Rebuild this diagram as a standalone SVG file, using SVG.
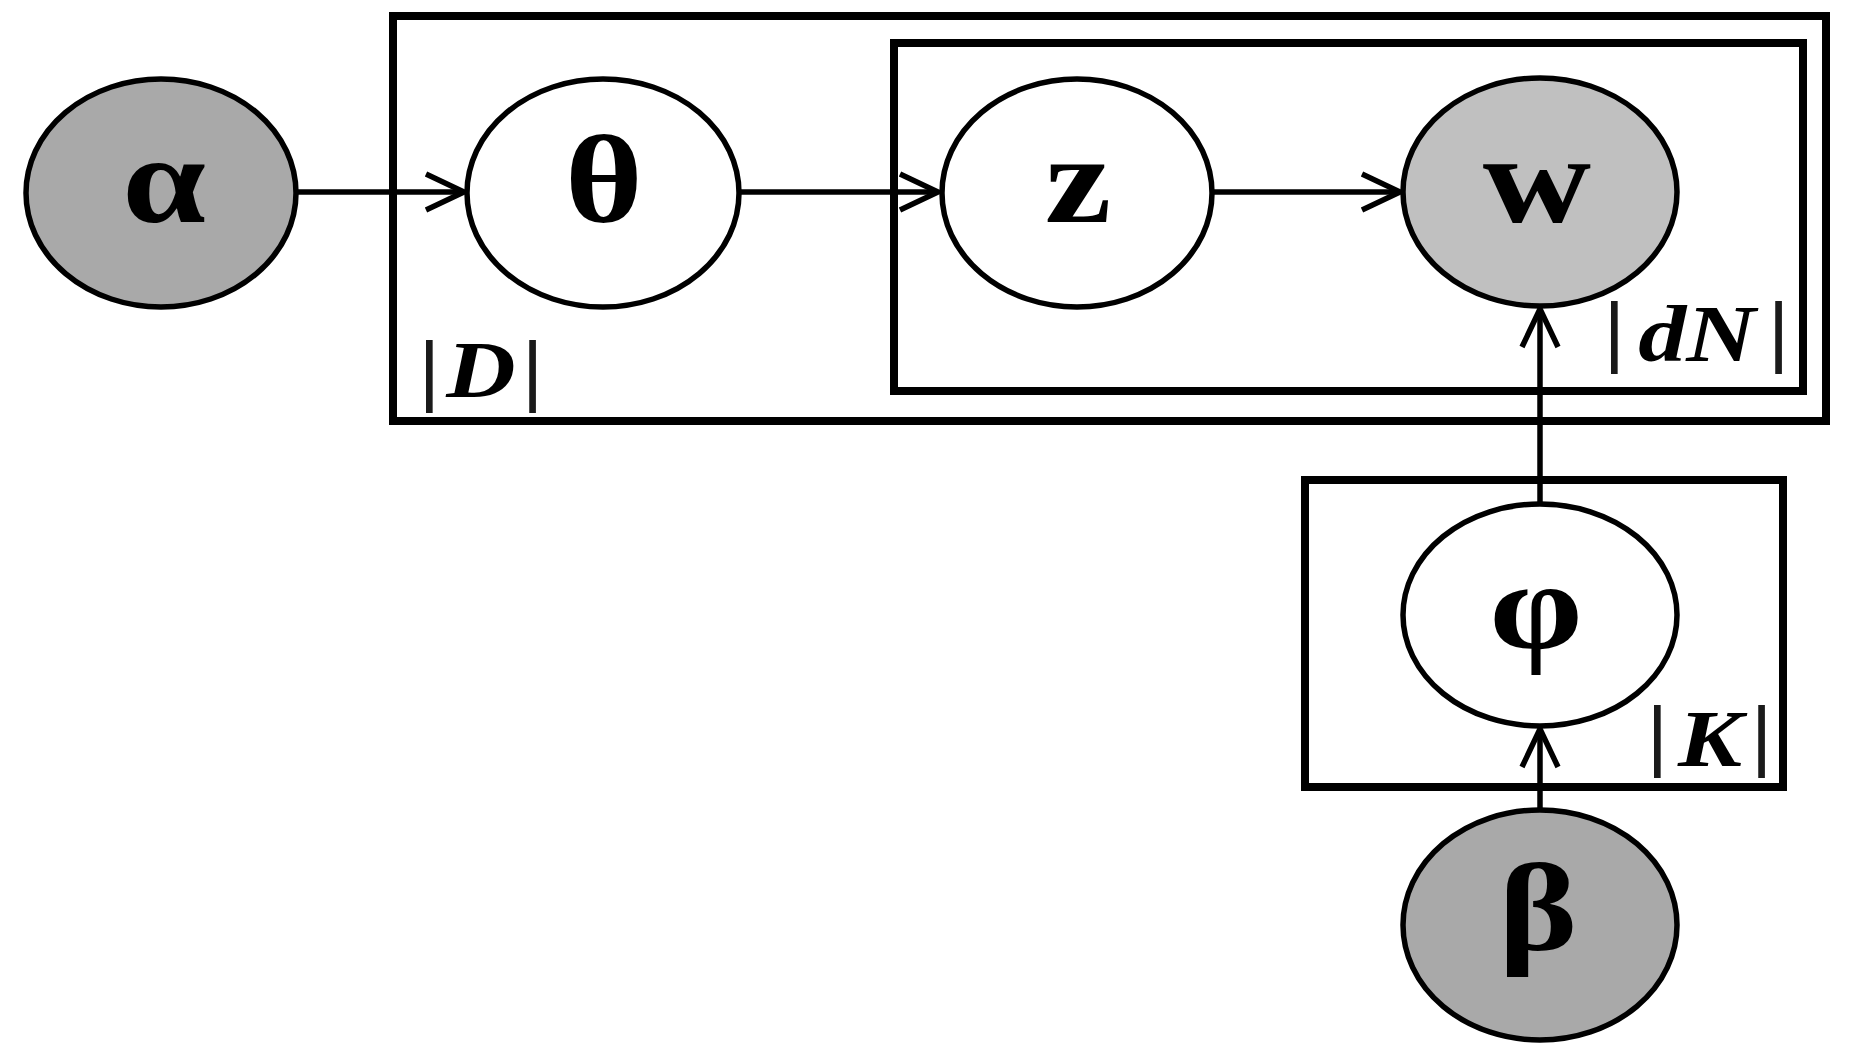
<svg xmlns="http://www.w3.org/2000/svg" width="1851" height="1055" viewBox="0 0 1851 1055">
<style>
.plate{fill:none;stroke:#000;stroke-width:8}
.node{stroke:#000;stroke-width:5.5}
.obs{fill:#a9a9a9}
.obs2{fill:#c0c0c0}
.lat{fill:#fff}
.lbl{font-family:"Liberation Serif","Times New Roman",serif;font-weight:bold;font-size:125px;text-anchor:middle;fill:#000}
.pl{font-family:"Liberation Serif","Times New Roman",serif;font-size:80px;fill:#000;text-anchor:middle}
.pl .v{font-weight:bold;font-style:italic}
.pl .b{fill:#1a1a1a;font-weight:bold}
.edge{fill:none;stroke:#000;stroke-width:5.5}
</style>
<defs>
<marker id="arr" markerUnits="userSpaceOnUse" markerWidth="50" markerHeight="50" viewBox="0 0 50 50" refX="40" refY="20" orient="auto" overflow="visible">
<path d="M2,2 L40,20 L2,38" fill="none" stroke="#000" stroke-width="5.5"/>
</marker>
</defs>
<rect width="1851" height="1055" fill="#fff"/>
<g id="plates">
<g id="plate-D">
<rect class="plate" x="393" y="16" width="1433" height="405"/>
<text class="pl" transform="translate(481,397) scale(1.2,1)"><tspan class="b" x="-43" y="-1">|</tspan><tspan class="v" x="0" y="0">D</tspan><tspan class="b" x="43" y="-1">|</tspan></text>
</g>
<g id="plate-dN">
<rect class="plate" x="894" y="43" width="909" height="348"/>
<text class="pl" transform="translate(1697,361) scale(1.2,1)"><tspan class="b" x="-69" y="-4">|</tspan><tspan class="v" x="0" y="0">dN</tspan><tspan class="b" x="68" y="-4">|</tspan></text>
</g>
<g id="plate-K">
<rect class="plate" x="1305" y="480" width="478" height="307"/>
<text class="pl" transform="translate(1710,766) scale(1.2,1)"><tspan class="b" x="-44" y="-5">|</tspan><tspan class="v" x="0" y="0">K</tspan><tspan class="b" x="43" y="-5">|</tspan></text>
</g>
</g>
<g id="connectors">
<line class="edge" x1="297" y1="192" x2="464" y2="192" marker-end="url(#arr)"/>
<line class="edge" x1="739" y1="192" x2="938" y2="192" marker-end="url(#arr)"/>
<line class="edge" x1="1212" y1="192" x2="1400" y2="192" marker-end="url(#arr)"/>
<line class="edge" x1="1540" y1="810" x2="1540" y2="729" marker-end="url(#arr)"/>
<line class="edge" x1="1540" y1="504" x2="1540" y2="309" marker-end="url(#arr)"/>
</g>
<g id="node-alpha">
<ellipse class="node obs" cx="161" cy="193" rx="135" ry="114"/>
<text class="lbl" transform="translate(164,222) scale(1.2,1)">α</text>
</g>
<g id="node-theta">
<ellipse class="node lat" cx="603" cy="193" rx="136" ry="114"/>
<text class="lbl" transform="translate(604,222) scale(1.2,1)">θ</text>
</g>
<g id="node-z">
<ellipse class="node lat" cx="1077" cy="193" rx="135" ry="114"/>
<text class="lbl" transform="translate(1078,222) scale(1.2,1)">z</text>
</g>
<g id="node-w">
<ellipse class="node obs2" cx="1540" cy="192" rx="137" ry="114"/>
<text class="lbl" transform="translate(1537,222) scale(1.2,1)">w</text>
</g>
<g id="node-phi">
<ellipse class="node lat" cx="1540" cy="615" rx="137" ry="111"/>
<text class="lbl" transform="translate(1536,648) scale(1.2,1)">φ</text>
</g>
<g id="node-beta">
<ellipse class="node obs" cx="1540" cy="925" rx="137" ry="115"/>
<text class="lbl" transform="translate(1538,950) scale(1.2,1)">β</text>
</g>
</svg>
